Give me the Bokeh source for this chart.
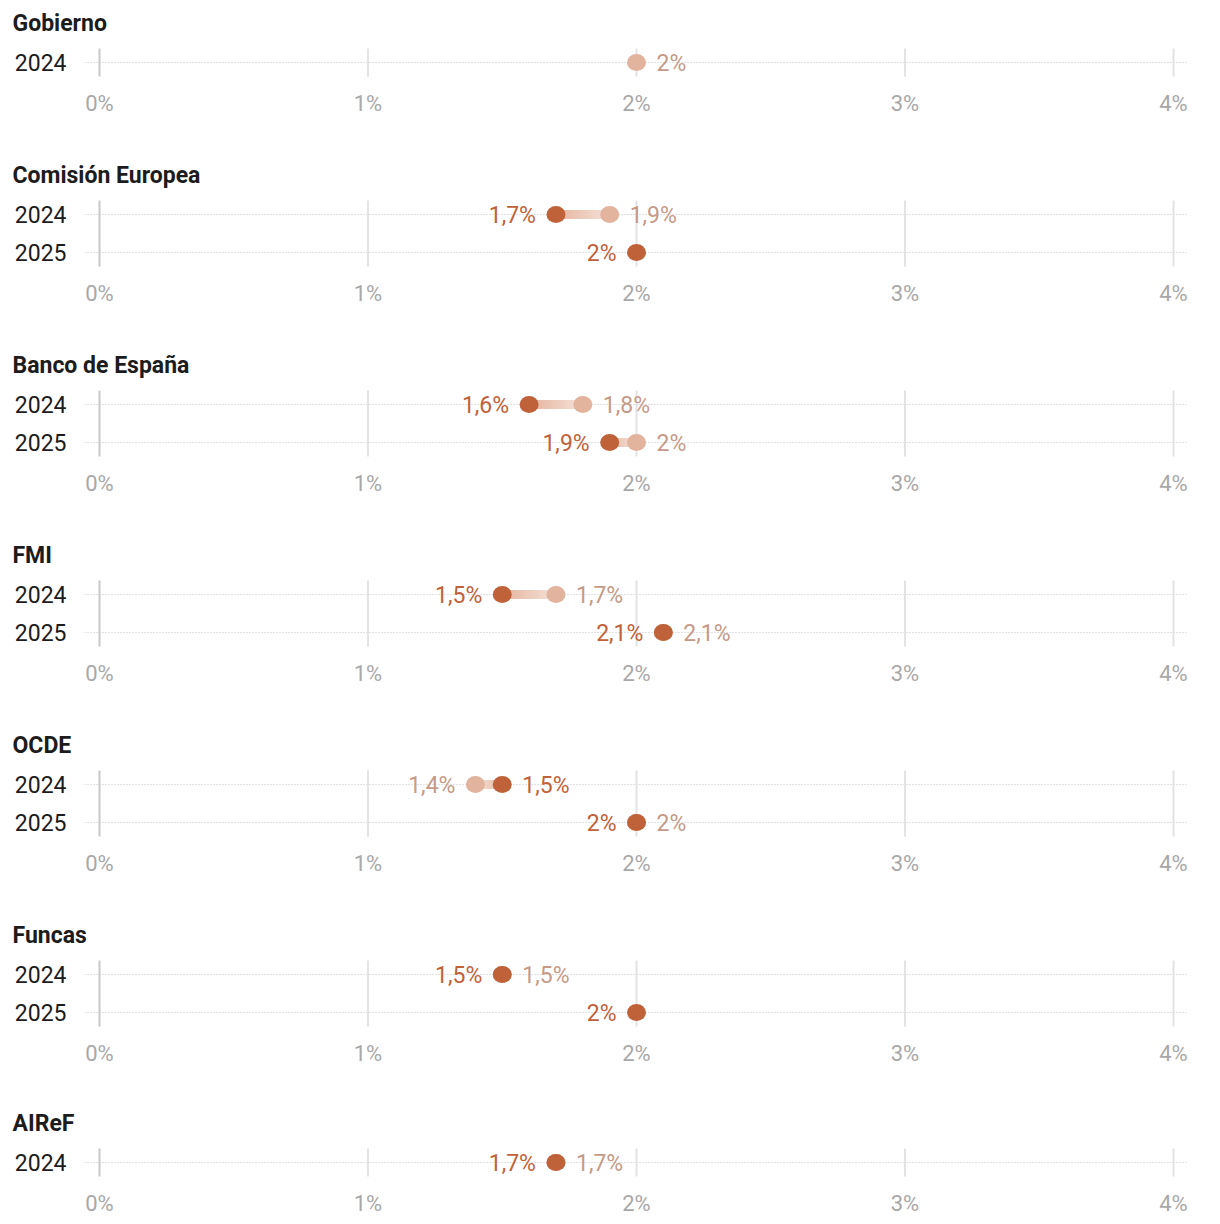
from bokeh.plotting import figure
from bokeh.models import Range1d, FixedTicker, PrintfTickFormatter
from bokeh.layouts import column
from bokeh.embed import file_html
from bokeh.resources import INLINE
from bokeh.core.properties import value

# ---------------- data ----------------
groups = ["Gobierno", "Comisión Europea", "Banco de España", "FMI", "OCDE", "Funcas", "AIReF"]
years = [["2024"], ["2024", "2025"], ["2024", "2025"], ["2024", "2025"],
         ["2024", "2025"], ["2024", "2025"], ["2024"]]
# earlier forecast (light dot)
light_vals = [[2.0], [1.9, None], [1.8, 2.0], [1.7, 2.1], [1.4, 2.0], [1.5, None], [1.7]]
# latest forecast (dark dot)
dark_vals = [[None], [1.7, 2.0], [1.6, 1.9], [1.5, 2.1], [1.5, 2.0], [1.5, 2.0], [1.7]]
x_ticks = [0, 1, 2, 3, 4]

# ---------------- style ----------------
DARK = "#bf623a"
LIGHT = "#e2b39d"
DARK_TXT = "#bf623a"
LIGHT_TXT = "#c59a88"
CONN_A = "#e4b19a"
CONN_B = "#f3ddd2"
FONT = "Roboto"


def fmt(v):
    s = f"{v:.1f}".replace(".", ",")
    if s.endswith(",0"):
        s = s[:-2]
    return s + "%"


def mix(c1, c2, t):
    a = [int(c1[i:i + 2], 16) for i in (1, 3, 5)]
    b = [int(c2[i:i + 2], 16) for i in (1, 3, 5)]
    return "#" + "".join(f"{round(a[k] + (b[k] - a[k]) * t):02x}" for k in range(3))


figs = []
ROW = 38      # px between rows
PAD = 14      # px the vertical grid lines extend beyond first/last row
EXT = 8       # extra frame px beyond the grid lines (keeps labels unclipped)
for gi, g in enumerate(groups):
    n = len(years[gi])
    rows = list(range(n))
    last = gi == len(groups) - 1
    frame_h = 2 * (PAD + EXT) + ROW * (n - 1)
    top = 40
    bottom = 38 if last else (66 if gi == len(groups) - 2 else 68)
    padu = (PAD + EXT) / ROW
    p = figure(width=1212, height=top + frame_h + bottom,
               x_range=Range1d(-15 / 268.5, 4 + 13 / 268.5),
               y_range=Range1d(n - 1 + padu, -padu),
               output_backend="svg", toolbar_location=None,
               min_border_left=84, min_border_right=26,
               min_border_top=top, min_border_bottom=bottom,
               title=g)
    p.outline_line_color = None
    p.background_fill_color = "white"
    p.border_fill_color = "white"

    t = p.title
    t.text_font = FONT
    t.text_font_size = "23px"
    t.text_font_style = "bold"
    t.text_color = "#1c1c1c"
    t.align = "left"
    t.offset = -72
    t.standoff = 7

    xa = p.xaxis[0]
    xa.ticker = FixedTicker(ticks=x_ticks)
    xa.formatter = PrintfTickFormatter(format="%d%%")
    xa.axis_line_color = None
    xa.major_tick_line_color = None
    xa.minor_tick_line_color = None
    xa.major_label_text_font = FONT
    xa.major_label_text_font_size = "22px"
    xa.major_label_text_color = "#a8a8a8"
    xa.major_label_standoff = 0

    ya = p.yaxis[0]
    ya.ticker = FixedTicker(ticks=rows)
    ya.major_label_overrides = {i: years[gi][i] for i in rows}
    ya.axis_line_color = None
    ya.major_tick_line_color = None
    ya.minor_tick_line_color = None
    ya.major_label_text_font = FONT
    ya.major_label_text_font_size = "23px"
    ya.major_label_text_color = "#1c1c1c"
    ya.major_label_standoff = 12

    p.xgrid.grid_line_color = None
    p.ygrid.ticker = FixedTicker(ticks=rows)
    p.ygrid.grid_line_color = "#c2c2c2"
    p.ygrid.grid_line_width = 1
    p.ygrid.grid_line_dash = "1 2"

    # vertical reference lines spanning the rows only
    g0 = -PAD / ROW
    g1 = n - 1 + PAD / ROW
    p.segment(x0=x_ticks, y0=[g0] * len(x_ticks), x1=x_ticks, y1=[g1] * len(x_ticks),
              line_color=["#c8c8c8"] + ["#e3e3e3"] * (len(x_ticks) - 1),
              line_width=2, line_cap="butt")

    for r in rows:
        lv = light_vals[gi][r]
        dv = dark_vals[gi][r]
        # gradient connector from dark dot to light dot
        if lv is not None and dv is not None and lv != dv:
            N = 20
            xs0, xs1, cols = [], [], []
            for k in range(N):
                xs0.append(dv + (lv - dv) * k / N)
                xs1.append(dv + (lv - dv) * (k + 1) / N)
                cols.append(mix(CONN_A, CONN_B, k / (N - 1)))
            p.segment(x0=xs0, y0=[r] * N, x1=xs1, y1=[r] * N,
                      line_color=cols, line_width=9, line_cap="square")
        if lv is not None:
            p.ellipse(x=[lv], y=[r], width=19, height=17,
                      width_units="screen", height_units="screen",
                      fill_color=LIGHT, line_color=None)
        if dv is not None:
            p.ellipse(x=[dv], y=[r], width=19, height=17,
                      width_units="screen", height_units="screen",
                      fill_color=DARK, line_color=None)
        # labels: latest value on the left unless it is above the earlier one
        if dv is None:
            dark_side, light_side = None, "right"
        elif lv is None or dv <= lv:
            dark_side, light_side = "left", "right"
        else:
            dark_side, light_side = "right", "left"
        for v, side, col in ((dv, dark_side, DARK_TXT), (lv, light_side, LIGHT_TXT)):
            if v is None:
                continue
            p.text(x=[v], y=[r], text=[fmt(v)],
                   x_offset=-20 if side == "left" else 20, y_offset=1,
                   text_align="right" if side == "left" else "left",
                   text_baseline="middle", text_font=value(FONT),
                   text_font_size="23px", text_color=col)
    figs.append(p)

layout = column(*figs, spacing=0)
open("out.html", "w").write(file_html(layout, INLINE))
